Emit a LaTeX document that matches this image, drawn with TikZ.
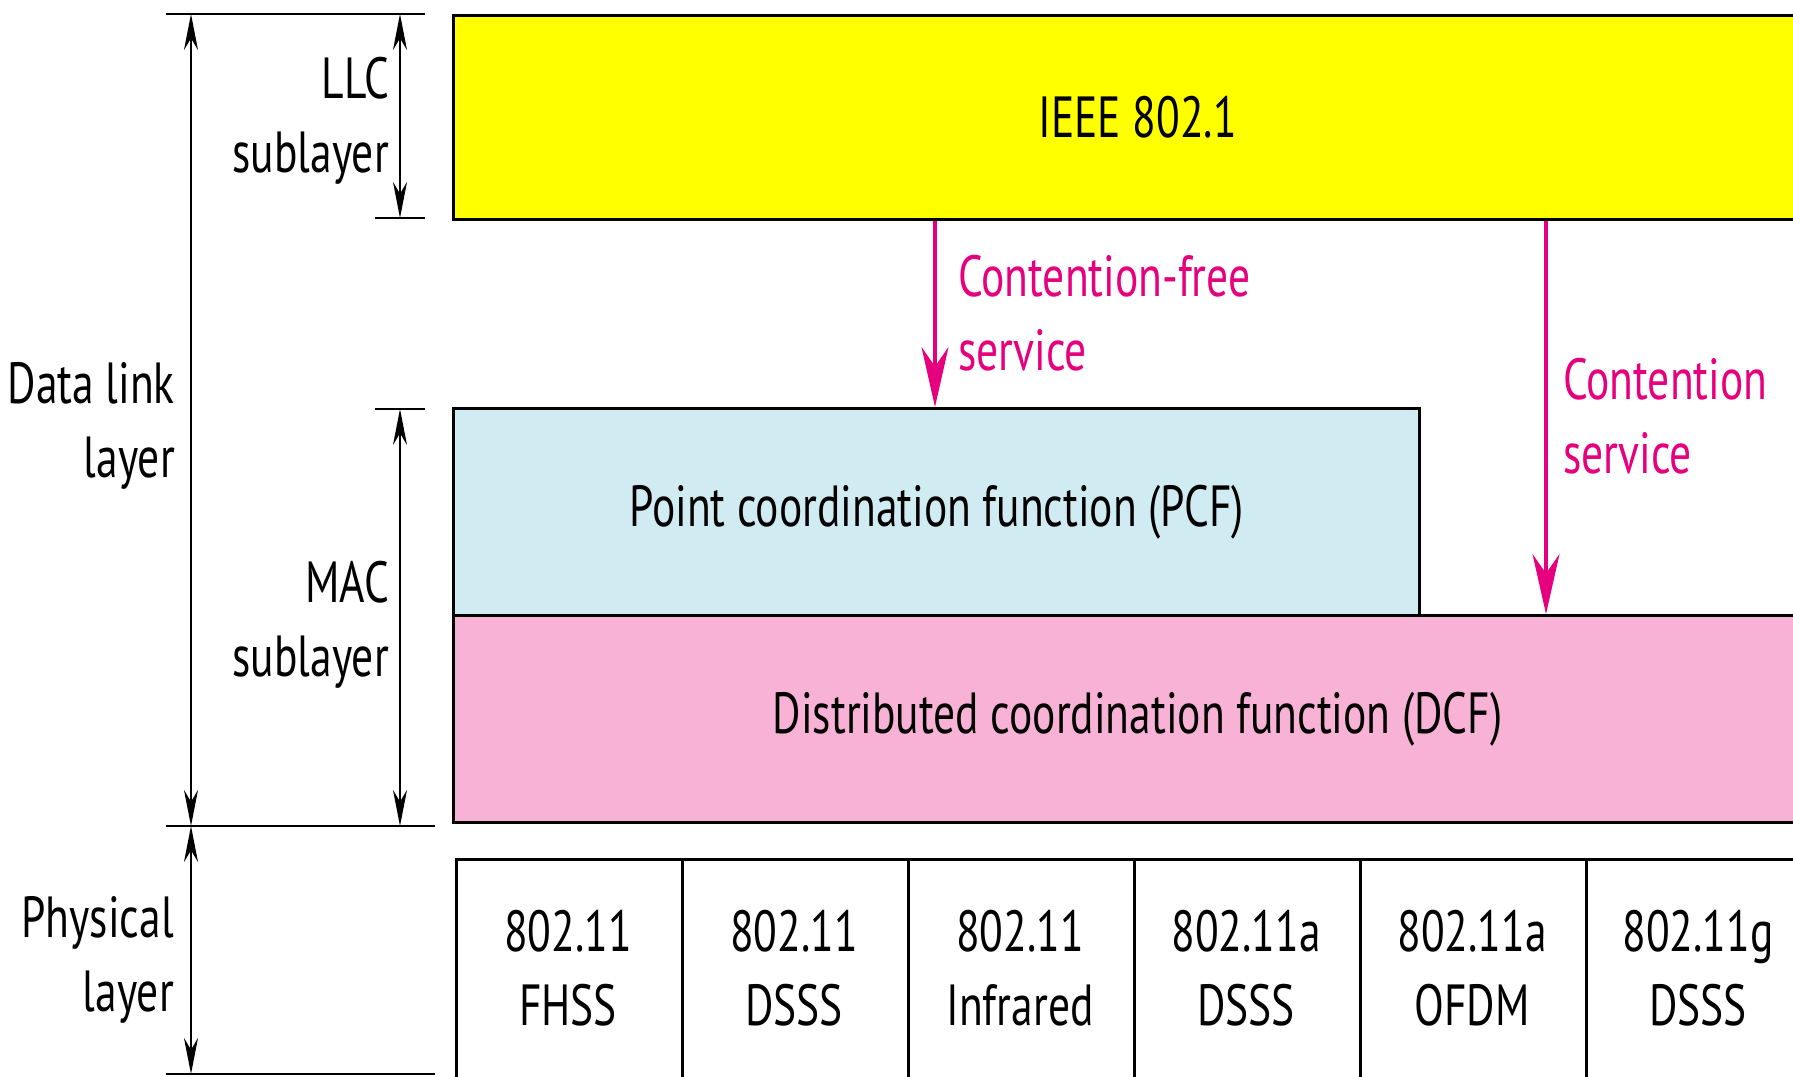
\documentclass[tikz,border=0pt]{standalone}
\usepackage{fontspec}
\setmainfont[FakeStretch=0.75]{PT Sans}
\usetikzlibrary{arrows.meta}
\definecolor{llcyellow}{RGB}{255,255,0}
\definecolor{pcfblue}{RGB}{208,235,242}
\definecolor{dcfpink}{RGB}{247,178,214}
\definecolor{svcpink}{RGB}{230,0,126}
\tikzset{
  box/.style={draw=black, line width=3.2pt, inner sep=0pt, anchor=north west, font=\bigfont},
  lbl/.style={font=\bigfont, align=right, anchor=east, inner sep=0pt},
  svclbl/.style={font=\bigfont, align=left, anchor=west, inner sep=0pt, text=svcpink},
  dimline/.style={line width=2pt},
  dimarrow/.style={line width=2pt, {Stealth[length=36pt,width=14pt]}-{Stealth[length=36pt,width=14pt]}},
  svcarrow/.style={draw=svcpink, line width=3.5pt, -{Stealth[length=60pt,width=27pt]}},
}
\newcommand{\bigfont}{\fontsize{58}{74}\selectfont}
\begin{document}
\begin{tikzpicture}[x=1pt,y=-1pt]
\useasboundingbox (0,0) rectangle (1793,1076);
\clip (0,0) rectangle (1793,1076);
% boxes
\node[box, fill=llcyellow, minimum width=1368pt, minimum height=204pt] (llc) at (452,14) {IEEE 802.1};
\node[box, fill=pcfblue, minimum width=966pt, minimum height=207pt] (pcf) at (452,407) {Point coordination function (PCF)};
\node[box, fill=dcfpink, minimum width=1368pt, minimum height=207pt] (dcf) at (452,614) {Distributed coordination function (DCF)};
% physical boxes
\foreach \i/\t [count=\k from 0] in {p1/{802.11\\FHSS}, p2/{802.11\\DSSS}, p3/{802.11\\Infrared}, p4/{802.11a\\DSSS}, p5/{802.11a\\OFDM}, p6/{802.11g\\DSSS}}{
  \node[box, fill=white, minimum width=226pt, minimum height=230pt, align=center, anchor=north west] (\i) at (455+226*\k,858) {};
  \node[font=\bigfont, align=center, inner sep=0pt] (\i t) at (568+226*\k,968) {\t};
}
% dimension lines
\coordinate (t1) at (166,14); \coordinate (t2) at (425,14);
\draw[dimline] (t1) -- (t2);
\coordinate (l1) at (375,218); \coordinate (l2) at (425,218);
\draw[dimline] (l1) -- (l2);
\coordinate (m1) at (375,409); \coordinate (m2) at (425,409);
\draw[dimline] (m1) -- (m2);
\coordinate (b1) at (166,826); \coordinate (b2) at (435,826);
\draw[dimline] (b1) -- (b2);
\coordinate (e1) at (166,1074); \coordinate (e2) at (435,1074);
\draw[dimline] (e1) -- (e2);
\coordinate (dl1) at (191,14); \coordinate (dl2) at (191,826); \coordinate (dl3) at (191,1074);
\draw[dimarrow] (dl1) -- (dl2);
\draw[dimarrow] (dl2) -- (dl3);
\coordinate (ll1) at (400,14); \coordinate (ll2) at (400,218);
\draw[dimarrow] (ll1) -- (ll2);
\coordinate (mm1) at (400,409); \coordinate (mm2) at (400,826);
\draw[dimarrow] (mm1) -- (mm2);
% labels
\node[lbl] (llclbl) at (389,121) {LLC\\sublayer};
\node[lbl] (dllbl) at (175,426) {Data link\\layer};
\node[lbl] (maclbl) at (389,625) {MAC\\sublayer};
\node[lbl] (phylbl) at (174,960) {Physical\\layer};
% service arrows
\coordinate (cfx) at (935,0);
\coordinate (cx) at (1546,0);
\draw[svcarrow] (llc.south -| cfx) -- (pcf.north -| cfx);
\draw[svcarrow] (llc.south -| cx) -- (dcf.north -| cx);
\node[svclbl] (cflbl) at (958,313) {Contention-free\\service};
\node[svclbl] (clbl) at (1563,416) {Contention\\service};
\end{tikzpicture}
\end{document}
